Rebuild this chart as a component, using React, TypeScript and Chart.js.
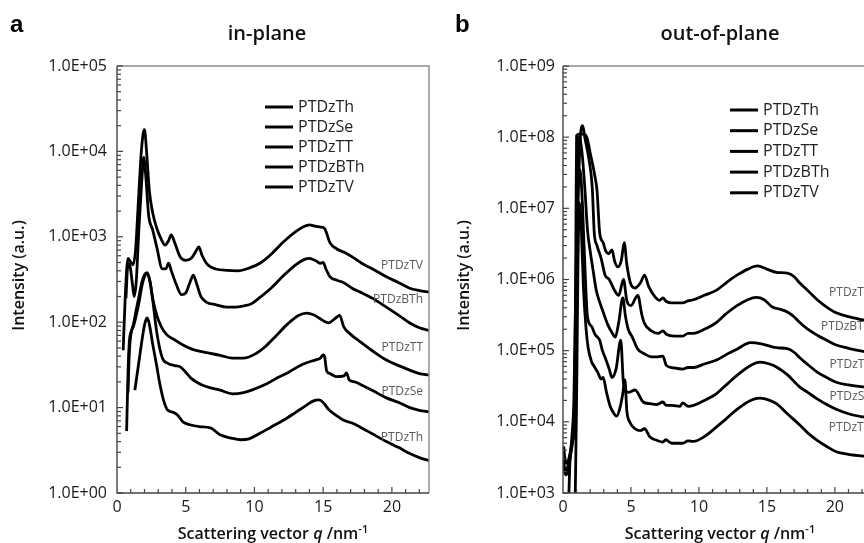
import React, { useEffect, useRef } from "react";
import { Chart, registerables } from "chart.js";

Chart.register(...registerables);

// ---------- shared ----------
const SERIES = ["PTDzTh", "PTDzSe", "PTDzTT", "PTDzBTh", "PTDzTV"];
const X_TICKS = [0, 5, 10, 15, 20];
const Y_TICKS_IN = [1, 10, 100, 1e3, 1e4, 1e5];
const Y_TICKS_OUT = [1e3, 1e4, 1e5, 1e6, 1e7, 1e8, 1e9];

// ---------- (a) in-plane ----------
const inTh_q = [1.3, 1.6, 1.9, 2.05, 2.2, 2.35, 2.6, 2.9, 3.1, 3.4, 3.7, 4.1, 4.4, 4.8, 5.3, 6.0, 6.8, 7.5, 8.3, 9.0, 9.6, 10.4, 11.2, 12.1, 13.0, 13.8, 14.3, 14.7, 15.0, 15.4, 16.0, 16.5, 17.1, 17.7, 18.6, 19.6, 20.5, 21.3, 22.0, 22.7];
const inTh_I = [16, 35, 75, 100, 112, 95, 55, 30, 19.5, 12, 9.3, 8.8, 8.2, 6.8, 6.3, 6.0, 5.8, 4.8, 4.4, 4.2, 4.3, 5.0, 5.9, 7.1, 8.8, 10.7, 12, 12.3, 11.5, 9.5, 8, 7.1, 6.6, 5.9, 4.9, 4.0, 3.4, 2.9, 2.6, 2.4];

const inSe_q = [0.7, 0.8, 0.9, 1.0, 1.2, 1.4, 1.6, 1.8, 2.0, 2.2, 2.4, 2.6, 2.9, 3.3, 3.7, 4.2, 4.6, 5.0, 5.4, 6.0, 6.8, 7.5, 8.4, 9.2, 10.0, 10.9, 11.7, 12.5, 13.3, 13.9, 14.4, 14.8, 15.0, 15.1, 15.25, 15.5, 16.0, 16.5, 16.7, 16.9, 17.3, 17.9, 18.7, 19.6, 20.5, 21.3, 22.0, 22.7];
const inSe_I = [5.3, 25, 60, 75, 90, 120, 170, 260, 340, 370, 300, 180, 75, 38, 33, 31, 30, 26, 22, 19, 17, 16, 14.5, 15, 16.5, 19, 22.5, 26, 31, 34, 36, 38, 41.5, 40, 27, 25, 23, 23.5, 25.5, 21, 20, 18, 15.5, 13, 11.5, 10, 9.3, 8.9];

const inTT_q = [0.8, 0.9, 1.0, 1.2, 1.4, 1.6, 1.8, 2.0, 2.2, 2.4, 2.6, 2.9, 3.2, 3.6, 4.2, 4.8, 5.5, 6.5, 7.5, 8.4, 9.2, 10.0, 10.8, 11.6, 12.4, 13.2, 13.8, 14.3, 14.7, 15.1, 15.4, 15.7, 16.0, 16.2, 16.5, 17.0, 17.7, 18.6, 19.6, 20.5, 21.3, 22.0, 22.7];
const inTT_I = [15, 45, 70, 95, 140, 200, 290, 360, 380, 300, 190, 120, 90, 72, 62, 54, 48, 44, 41, 38, 38, 42, 52, 70, 95, 120, 128, 122, 112, 102, 98, 105, 115, 120, 88, 72, 59, 46, 36, 31, 27.5, 25, 24];

const inBTh_q = [0.65, 0.8, 0.95, 1.1, 1.25, 1.4, 1.6, 1.8, 1.95, 2.1, 2.3, 2.6, 2.9, 3.3, 3.55, 3.75, 3.95, 4.3, 4.7, 5.0, 5.3, 5.55, 5.8, 6.1, 6.5, 7.2, 8.0, 8.6, 9.2, 9.8, 10.4, 11.2, 12.1, 13.0, 13.6, 14.0, 14.5, 14.8, 15.0, 15.2, 15.5, 16.0, 16.5, 17.1, 17.7, 18.6, 19.6, 20.5, 21.3, 22.0, 22.7];
const inBTh_I = [190, 480, 450, 300, 200, 300, 1300, 4500, 8500, 5000, 1800, 1200, 750, 420, 420, 490, 400, 280, 210, 220, 290, 355, 280, 200, 172, 160, 150, 150, 155, 165, 195, 250, 350, 470, 540, 560, 520, 490, 500, 420, 340, 310, 290, 250, 225, 190, 150, 120, 98, 86, 80];

const inTV_q = [0.45, 0.6, 0.8, 0.95, 1.15, 1.35, 1.55, 1.75, 1.9, 2.0, 2.15, 2.35, 2.6, 2.9, 3.2, 3.5, 3.75, 3.95, 4.2, 4.6, 5.0, 5.4, 5.75, 5.95, 6.2, 6.6, 7.2, 8.0, 8.8, 9.6, 10.4, 11.2, 12.1, 13.0, 13.6, 14.0, 14.4, 14.8, 15.1, 15.5, 16.0, 16.6, 17.2, 17.8, 18.6, 19.6, 20.5, 21.3, 22.0, 22.7];
const inTV_I = [47, 200, 560, 520, 470, 700, 2500, 9000, 16000, 18000, 10000, 3500, 1900, 1250, 950, 800, 900, 1050, 850, 580, 530, 560, 680, 760, 600, 470, 420, 405, 400, 430, 490, 620, 870, 1150, 1320, 1380, 1330, 1300, 1250, 850, 720, 650, 570, 490, 420, 340, 290, 250, 235, 225];

// intensity at which each right-hand curve label sits (Th, Se, TT, BTh, TV)
const inLabel_I = [4.5, 15.2, 50, 182, 455];

// ---------- (b) out-of-plane ----------
const outTh_q = [0.8, 0.9, 1.0, 1.1, 1.2, 1.35, 1.5, 1.7, 1.85, 2.1, 2.3, 2.55, 2.8, 2.95, 3.2, 3.45, 3.7, 3.95, 4.2, 4.4, 4.55, 4.7, 4.9, 5.3, 5.7, 6.0, 6.4, 6.9, 7.35, 7.55, 8.0, 8.8, 9.2, 9.6, 10.4, 11.3, 12.0, 12.8, 13.8, 14.5, 15.2, 15.7, 16.5, 17.4, 18.0, 18.7, 19.4, 20.1, 21.0, 22.1, 23.0];
const outTh_I = [300, 900, 2e4, 1.5e6, 1.2e7, 5e6, 8e5, 2e5, 1.1e5, 7e4, 6e4, 5e4, 4e4, 4.2e4, 2.6e4, 1.7e4, 1.35e4, 1.2e4, 1.6e4, 2.5e4, 3.9e4, 1.4e4, 1e4, 8e3, 7.5e3, 8e3, 6.1e3, 5.5e3, 5.2e3, 5.6e3, 5.0e3, 5.0e3, 5.4e3, 5.3e3, 6.2e3, 8.5e3, 1.1e4, 1.5e4, 2.0e4, 2.15e4, 2.0e4, 1.8e4, 1.3e4, 9.1e3, 7e3, 5.5e3, 4.5e3, 3.8e3, 3.5e3, 3.3e3, 3.2e3];

const outSe_q = [0.3, 0.4, 0.5, 0.65, 0.8, 0.95, 1.1, 1.25, 1.4, 1.55, 1.8, 2.1, 2.35, 2.7, 2.9, 3.1, 3.4, 3.6, 3.9, 4.25, 4.45, 4.8, 5.3, 5.9, 6.4, 6.9, 7.35, 7.6, 8.0, 8.6, 8.8, 9.2, 9.6, 10.4, 11.3, 12.0, 12.8, 13.8, 14.5, 15.2, 15.7, 16.5, 17.4, 18.0, 18.7, 19.4, 20.1, 21.0, 22.1, 23.0];
const outSe_I = [200, 600, 2500, 6000, 2e4, 1e6, 2.5e7, 3.5e7, 1.5e7, 3e6, 3e5, 2.2e5, 1.7e5, 1.4e5, 1.0e5, 8e4, 5.5e4, 4.2e4, 5.5e4, 1.4e5, 3.5e4, 2.6e4, 2.8e4, 1.9e4, 1.8e4, 1.75e4, 1.9e4, 1.7e4, 1.7e4, 1.65e4, 1.85e4, 1.65e4, 1.7e4, 2.0e4, 2.5e4, 3.3e4, 4.5e4, 6.2e4, 6.9e4, 6.5e4, 5.9e4, 4.6e4, 3.1e4, 2.6e4, 2.1e4, 1.75e4, 1.5e4, 1.3e4, 1.17e4, 1.1e4];

const outTT_q = [0.05, 0.2, 0.35, 0.55, 0.75, 0.9, 1.05, 1.2, 1.4, 1.6, 1.8, 2.0, 2.2, 2.45, 2.7, 3.0, 3.3, 3.6, 3.85, 4.1, 4.4, 4.6, 4.8, 5.1, 5.5, 6.0, 6.5, 7.0, 7.35, 7.6, 8.0, 8.8, 9.2, 9.6, 10.4, 11.3, 12.0, 12.8, 13.8, 14.6, 15.7, 16.5, 17.0, 17.4, 18.0, 18.7, 19.4, 20.1, 21.0, 22.1, 23.0];
const outTT_I = [2200, 1800, 2000, 3500, 7000, 2e4, 3e7, 1.0e8, 6e7, 2e7, 5e6, 2.5e6, 1.4e6, 7e5, 4.8e5, 3.3e5, 2.3e5, 1.8e5, 1.55e5, 2.5e5, 5.5e5, 3e5, 2.0e5, 1.55e5, 1.05e5, 9e4, 8.2e4, 8.2e4, 8.4e4, 6.2e4, 5.8e4, 5.5e4, 5.8e4, 5.8e4, 6.5e4, 7.4e4, 8.8e4, 1.05e5, 1.3e5, 1.25e5, 1.1e5, 1.07e5, 9.5e4, 8e4, 6.4e4, 5e4, 4.2e4, 3.6e4, 3.3e4, 3.1e4, 3.0e4];

const outBTh_q = [0.05, 0.15, 0.3, 0.5, 0.7, 0.9, 1.05, 1.25, 1.45, 1.6, 1.9, 2.15, 2.3, 2.5, 2.8, 3.1, 3.4, 3.8, 4.1, 4.45, 4.7, 5.0, 5.5, 5.8, 6.0, 6.5, 7.0, 7.35, 7.6, 8.2, 8.8, 9.2, 9.6, 10.4, 11.3, 12.0, 12.8, 13.6, 14.2, 14.8, 15.4, 16.0, 16.5, 17.0, 17.4, 18.0, 18.7, 19.4, 20.1, 21.0, 22.1, 23.0];
const outBTh_I = [3000, 2000, 2200, 3000, 5000, 1.5e4, 3e6, 8e7, 1.45e8, 1e8, 5e7, 2e7, 4.5e6, 3e6, 2e6, 1.15e6, 1.0e6, 7e5, 6e5, 1.0e6, 5e5, 4.3e5, 6e5, 3.2e5, 2.4e5, 1.9e5, 1.75e5, 1.9e5, 1.7e5, 1.6e5, 1.6e5, 1.75e5, 1.75e5, 2.0e5, 2.5e5, 3.3e5, 4.3e5, 5.2e5, 5.6e5, 5.2e5, 4.1e5, 3.8e5, 3.5e5, 3.0e5, 2.5e5, 2.0e5, 1.65e5, 1.4e5, 1.2e5, 1.08e5, 9.8e4, 9.2e4];

const outTV_q = [0.05, 0.15, 0.3, 0.5, 0.7, 0.85, 0.93, 1.0, 1.2, 1.5, 1.75, 2.0, 2.35, 2.5, 2.7, 2.95, 3.15, 3.35, 3.6, 3.8, 4.05, 4.3, 4.5, 4.7, 5.0, 5.3, 5.7, 6.0, 6.3, 6.8, 7.1, 7.35, 7.6, 8.0, 8.8, 9.2, 9.6, 10.4, 11.3, 12.0, 12.8, 13.6, 14.3, 15.0, 15.7, 16.5, 17.0, 17.4, 18.0, 18.7, 19.4, 20.1, 21.0, 22.1, 23.0];
const outTV_I = [4500, 3000, 2600, 3500, 6000, 2e4, 1e6, 1.05e8, 1.1e8, 1.1e8, 1.0e8, 6e7, 2.8e7, 1.8e7, 4.5e6, 3.3e6, 2.5e6, 2.3e6, 2.6e6, 1.8e6, 1.5e6, 1.9e6, 3.3e6, 1.6e6, 8.5e5, 7.6e5, 9e5, 1.15e6, 8e5, 5.6e5, 5.1e5, 5.5e5, 4.9e5, 4.7e5, 4.7e5, 5.0e5, 5.2e5, 6e5, 7.1e5, 9e5, 1.15e6, 1.4e6, 1.55e6, 1.4e6, 1.26e6, 1.23e6, 1.1e6, 9e5, 7e5, 5.2e5, 4.1e5, 3.4e5, 3e5, 2.7e5, 2.5e5];

const outLabel_I = [8.2e3, 2.24e4, 6.3e4, 2.15e5, 6.5e5];

// ---------- panels ----------
const FONT = '"Open Sans", "DejaVu Sans", sans-serif';

const panelA = {
  letter: "a",
  letterX: 10,
  title: "in-plane",
  titleX: 267,
  xMax: 22.7,
  yTicks: Y_TICKS_IN,
  axisLeft: 117,
  tickGap: 10,
  padRight: 3,
  yTitleX: 19,
  legendX: 265,
  legendY: 107,
  legendDy: 20,
  labels: inLabel_I,
  series: [
    [inTh_q, inTh_I],
    [inSe_q, inSe_I],
    [inTT_q, inTT_I],
    [inBTh_q, inBTh_I],
    [inTV_q, inTV_I],
  ],
};

const panelB = {
  letter: "b",
  letterX: 23,
  title: "out-of-plane",
  titleX: 288,
  xMax: 23.1,
  yTicks: Y_TICKS_OUT,
  axisLeft: 131,
  tickGap: 8,
  padRight: 5,
  yTitleX: 32,
  legendX: 298,
  legendY: 110,
  legendDy: 20.7,
  labels: outLabel_I,
  series: [
    [outTh_q, outTh_I],
    [outSe_q, outSe_I],
    [outTT_q, outTT_I],
    [outBTh_q, outBTh_I],
    [outTV_q, outTV_I],
  ],
};

function fmtExp(v: number) {
  const e = Math.round(Math.log10(v));
  return "1.0E" + (e < 0 ? "-" : "+") + String(Math.abs(e)).padStart(2, "0");
}

function decorPlugin(p: any) {
  return {
    id: "decor",
    afterDraw(chart: any) {
      const { ctx, chartArea: ca, scales } = chart;
      const xs = scales.x;
      const ys = scales.y;
      ctx.save();

      // frame
      ctx.lineWidth = 1.4;
      ctx.strokeStyle = "#8c8c8c";
      ctx.beginPath();
      ctx.moveTo(ca.left, ca.top);
      ctx.lineTo(ca.right, ca.top);
      ctx.lineTo(ca.right, ca.bottom);
      ctx.stroke();
      ctx.strokeStyle = "#444";
      ctx.beginPath();
      ctx.moveTo(ca.left, ca.top);
      ctx.lineTo(ca.left, ca.bottom);
      ctx.lineTo(ca.right, ca.bottom);
      ctx.stroke();

      // inward x ticks
      ctx.lineWidth = 1.2;
      ctx.strokeStyle = "#444";
      for (let v = 1; v < xs.max; v++) {
        const px = xs.getPixelForValue(v);
        const len = v % 5 === 0 ? 6 : 4;
        ctx.beginPath();
        ctx.moveTo(px, ca.bottom);
        ctx.lineTo(px, ca.bottom - len);
        ctx.stroke();
      }
      // inward y ticks (log minor)
      const e0 = Math.round(Math.log10(ys.min));
      const e1 = Math.round(Math.log10(ys.max));
      for (let e = e0; e <= e1; e++) {
        for (let m = 1; m <= 9; m++) {
          const v = m * Math.pow(10, e);
          if (v > ys.max * 1.0001) break;
          const py = ys.getPixelForValue(v);
          const len = m === 1 ? 6 : 4;
          ctx.beginPath();
          ctx.moveTo(ca.left, py);
          ctx.lineTo(ca.left + len, py);
          ctx.stroke();
        }
      }

      // y tick labels
      ctx.font = `16px ${FONT}`;
      ctx.fillStyle = "#1a1a1a";
      ctx.textAlign = "right";
      ctx.textBaseline = "middle";
      p.yTicks.forEach((v: number) => {
        ctx.fillText(fmtExp(v), ca.left - p.tickGap, ys.getPixelForValue(v));
      });

      // legend
      ctx.font = `16px ${FONT}`;
      ctx.textBaseline = "middle";
      ctx.textAlign = "left";
      SERIES.forEach((name, i) => {
        const y = p.legendY + i * p.legendDy;
        ctx.strokeStyle = "#000";
        ctx.lineWidth = 3;
        ctx.beginPath();
        ctx.moveTo(p.legendX, y);
        ctx.lineTo(p.legendX + 28, y);
        ctx.stroke();
        ctx.fillStyle = "#222";
        ctx.fillText(name, p.legendX + 33, y);
      });

      // curve labels at right
      ctx.font = `12px ${FONT}`;
      ctx.fillStyle = "#5a5a5a";
      ctx.textAlign = "right";
      SERIES.forEach((name, i) => {
        ctx.fillText(name, ca.right - 6, ys.getPixelForValue(p.labels[i]));
      });

      // panel letter
      ctx.fillStyle = "#000";
      ctx.textAlign = "left";
      ctx.textBaseline = "alphabetic";
      ctx.font = `bold 24px "Liberation Sans", Arial, sans-serif`;
      ctx.fillText(p.letter, p.letterX, 32);

      // title
      ctx.font = `600 20px ${FONT}`;
      ctx.textAlign = "center";
      ctx.fillStyle = "#111";
      ctx.fillText(p.title, p.titleX, 40);

      // y title
      ctx.save();
      ctx.translate(p.yTitleX, (ca.top + ca.bottom) / 2 - 4);
      ctx.rotate(-Math.PI / 2);
      ctx.font = `600 16px ${FONT}`;
      ctx.textAlign = "center";
      ctx.textBaseline = "middle";
      ctx.fillText("Intensity (a.u.)", 0, 0);
      ctx.restore();

      // x title with italic q and superscript
      const parts = [
        { t: "Scattering vector ", f: `600 16px ${FONT}`, dy: 0 },
        { t: "q", f: `italic 600 16px ${FONT}`, dy: 0 },
        { t: " /nm", f: `600 16px ${FONT}`, dy: 0 },
        { t: "-1", f: `600 11px ${FONT}`, dy: -6 },
      ];
      let total = 0;
      parts.forEach((pt) => {
        ctx.font = pt.f;
        total += ctx.measureText(pt.t).width;
      });
      let x = (ca.left + ca.right) / 2 - total / 2;
      ctx.textAlign = "left";
      ctx.textBaseline = "alphabetic";
      parts.forEach((pt) => {
        ctx.font = pt.f;
        ctx.fillText(pt.t, x, 539 + pt.dy);
        x += ctx.measureText(pt.t).width;
      });

      ctx.restore();
    },
  };
}

function buildConfig(p: any): any {
  return {
    type: "line",
    data: {
      datasets: p.series.map((s: number[][], i: number) => ({
        label: SERIES[i],
        data: s[0].map((q: number, k: number) => ({ x: q, y: s[1][k] })),
        borderColor: "#000",
        borderWidth: 2.8,
        pointRadius: 0,
        fill: false,
        cubicInterpolationMode: "monotone",
      })),
    },
    options: {
      responsive: false,
      animation: false,
      devicePixelRatio: 1,
      events: [],
      layout: { padding: { left: 0, right: p.padRight, top: 66, bottom: 0 } },
      plugins: {
        legend: { display: false },
        tooltip: { enabled: false },
        title: { display: false },
      },
      scales: {
        x: {
          type: "linear",
          min: 0,
          max: p.xMax,
          afterBuildTicks: (s: any) => {
            s.ticks = X_TICKS.map((v) => ({ value: v }));
          },
          afterFit: (s: any) => {
            s.height = 50;
          },
          grid: { display: false, drawTicks: false },
          border: { display: false },
          ticks: {
            font: { family: FONT, size: 16 },
            color: "#1a1a1a",
            padding: 5,
            maxRotation: 0,
            autoSkip: false,
          },
        },
        y: {
          type: "logarithmic",
          min: p.yTicks[0],
          max: p.yTicks[p.yTicks.length - 1],
          afterBuildTicks: (s: any) => {
            s.ticks = p.yTicks.map((v: number) => ({ value: v }));
          },
          afterFit: (s: any) => {
            s.width = p.axisLeft;
          },
          grid: { display: false, drawTicks: false },
          border: { display: false },
          ticks: { display: false },
        },
      },
    },
    plugins: [decorPlugin(p)],
  };
}

function Panel({ cfg, left, width }: { cfg: any; left: number; width: number }) {
  const ref = useRef<HTMLCanvasElement>(null);
  useEffect(() => {
    const chart = new Chart(ref.current as HTMLCanvasElement, buildConfig(cfg));
    return () => chart.destroy();
  }, [cfg]);
  return (
    <canvas
      ref={ref}
      width={width}
      height={543}
      style={{ position: "absolute", left, top: 0, width, height: 543, display: "block" }}
    />
  );
}

export default function App() {
  return (
    <div
      style={{
        position: "fixed",
        left: 0,
        top: 0,
        width: 864,
        height: 543,
        overflow: "hidden",
        background: "#fff",
      }}
    >
      <Panel cfg={panelA} left={0} width={432} />
      <Panel cfg={panelB} left={432} width={450} />
    </div>
  );
}
